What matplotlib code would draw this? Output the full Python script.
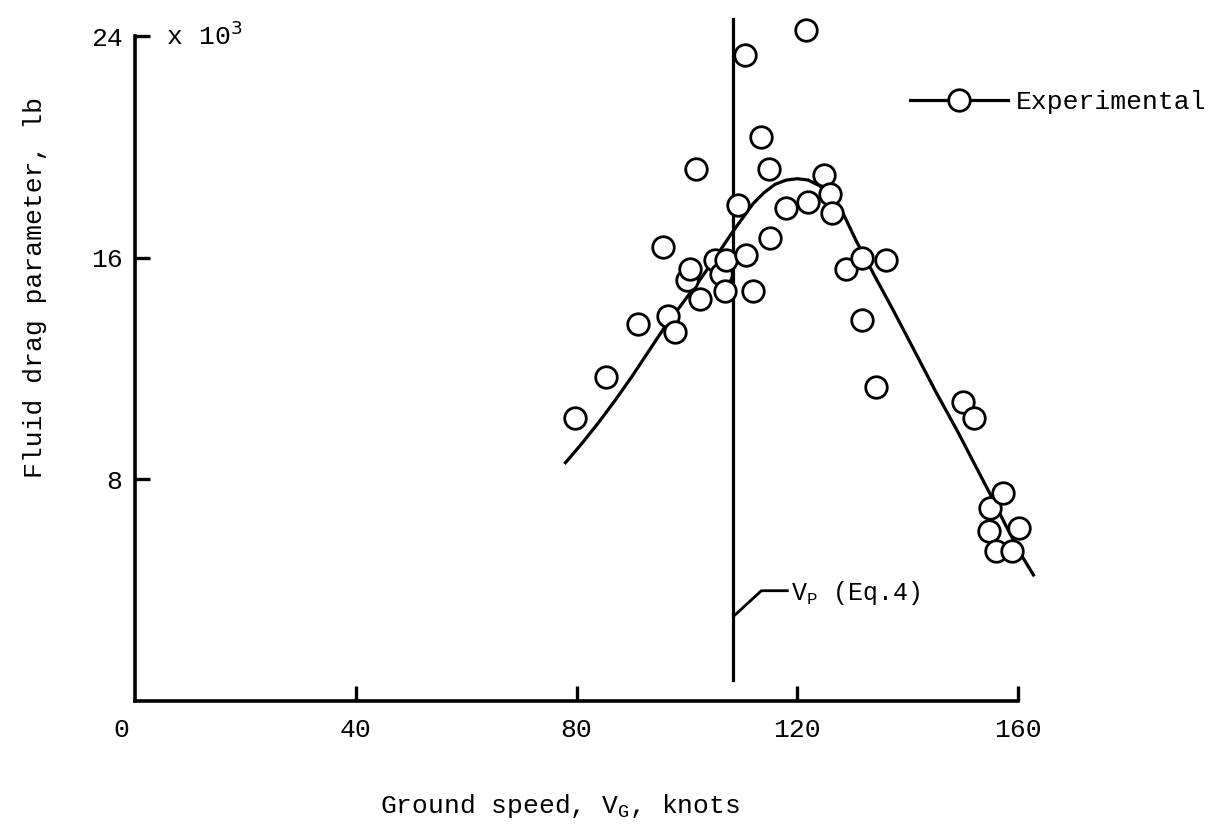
import matplotlib
matplotlib.use("Agg")
import matplotlib.pyplot as plt
import matplotlib.transforms as mtransforms
from matplotlib.lines import Line2D

plt.rcParams['font.family'] = ['Liberation Mono', 'DejaVu Sans Mono']

# experimental points, ground speed (knots) vs fluid drag parameter (x 10^3 lb)
speed_exp = [79.7, 85.3, 91.2, 96.5, 97.8, 95.7, 100.1, 100.6, 101.6, 102.3,
             105.1, 106.2, 106.9, 107.1, 109.2, 110.6, 110.8, 111.9, 113.4, 114.9,
             115.0, 117.9, 121.5, 121.9, 124.9, 126.0, 126.3, 128.9, 131.7, 131.8,
             134.3, 136.0, 150.0, 152.0, 154.8, 154.9, 156.1, 157.3, 159.0, 160.1]
drag_exp = [10.2, 11.7, 13.6, 13.9, 13.3, 16.4, 15.2, 15.6, 19.2, 14.5,
            15.9, 15.4, 14.8, 15.9, 17.9, 23.3, 16.1, 14.8, 20.35, 19.2,
            16.7, 17.8, 24.2, 18.0, 19.0, 18.3, 17.6, 15.6, 13.75, 16.0,
            11.35, 15.9, 10.8, 10.2, 6.15, 6.95, 5.4, 7.5, 5.4, 6.26]

# faired curve
curve_speed = [78, 81, 84, 87, 90, 93, 96, 99, 102, 105, 108, 110, 112, 114,
               116, 118, 120, 122, 124, 126, 127.7, 130.7, 134, 137.4, 141.6,
               145, 149, 152, 155, 158, 160.5, 162.8]
curve_drag = [8.6, 9.3, 10.05, 10.85, 11.7, 12.6, 13.5, 14.3, 15.1, 15.95, 16.85,
              17.4, 17.95, 18.35, 18.65, 18.8, 18.85, 18.8, 18.6, 18.25, 17.85,
              16.6, 15.35, 14.1, 12.5, 11.2, 9.75, 8.6, 7.45, 6.25, 5.3, 4.55]

# planing speed V_P (Eq.4)
vp_speed = 108.4
vp_range = [0.75, 24.6]

x_ticks = [0, 40, 80, 120, 160]
y_ticks = [0, 8, 16, 24]
y_ticklabels = ['', '8', '16', '24']

fig = plt.figure(figsize=(12.14, 8.27), dpi=100)
ax = fig.add_axes([135 / 1214, 1 - 701 / 827, (1018 - 135) / 1214, (701 - 36) / 827])

ax.plot(curve_speed, curve_drag, color='black', lw=2.3, clip_on=False, zorder=2,
        solid_joinstyle='round')
ax.plot([vp_speed, vp_speed], vp_range, color='black', lw=2.3, clip_on=False, zorder=2)
ax.plot(speed_exp, drag_exp, 'o', ms=15.5, mfc='white', mec='black', mew=2.0,
        clip_on=False, zorder=3)

# V_P label with leader
ax.plot([vp_speed + 0.3, 113.5, 118.2], [3.1, 3.98, 3.98], color='black', lw=2.0)
ax.text(118.8, 3.9, r'V$_\mathregular{P}$ (Eq.4)', fontsize=18, va='center', ha='left')

ax.set_xlim(0, 160)
ax.set_ylim(0, 24)
ax.spines['top'].set_visible(False)
ax.spines['right'].set_visible(False)
for s in ['left', 'bottom']:
    ax.spines[s].set_linewidth(2.6)

ax.set_xticks(x_ticks)
ax.set_yticks(y_ticks)
ax.set_yticklabels(y_ticklabels)
ax.tick_params(direction='in', length=11, width=2.4, labelsize=19, pad=9)
ax.tick_params(axis='x', pad=12)
ax.xaxis.get_major_ticks()[0].tick1line.set_visible(False)
ax.yaxis.get_major_ticks()[0].tick1line.set_visible(False)

# "0" label sits a little left of the axis corner
lbl0 = ax.get_xticklabels()[0]
lbl0.set_transform(lbl0.get_transform() +
                   mtransforms.ScaledTranslation(-14 / 100, 0, fig.dpi_scale_trans))

ax.text(0, 24, '  x 10$^3$', fontsize=19, va='center', ha='left',
        transform=ax.transData)

fig.text(560 / 1214, 1 - 806 / 827, r'Ground speed, V$_\mathregular{G}$, knots',
         fontsize=19, ha='center', va='center')
fig.text(35 / 1214, 1 - 288 / 827, 'Fluid drag parameter, lb', fontsize=19,
         rotation=90, ha='center', va='center')

handle = Line2D([], [], color='black', lw=2.3, marker='o', ms=15.5, mfc='white',
                mec='black', mew=2.0)
fig.legend([handle], ['Experimental'], loc='center left',
           bbox_to_anchor=(910 / 1214, 1 - 102 / 827), frameon=False,
           borderaxespad=0, borderpad=0, handlelength=3.7, handletextpad=0.3,
           fontsize=19)

fig.savefig('out.png', dpi=100)
